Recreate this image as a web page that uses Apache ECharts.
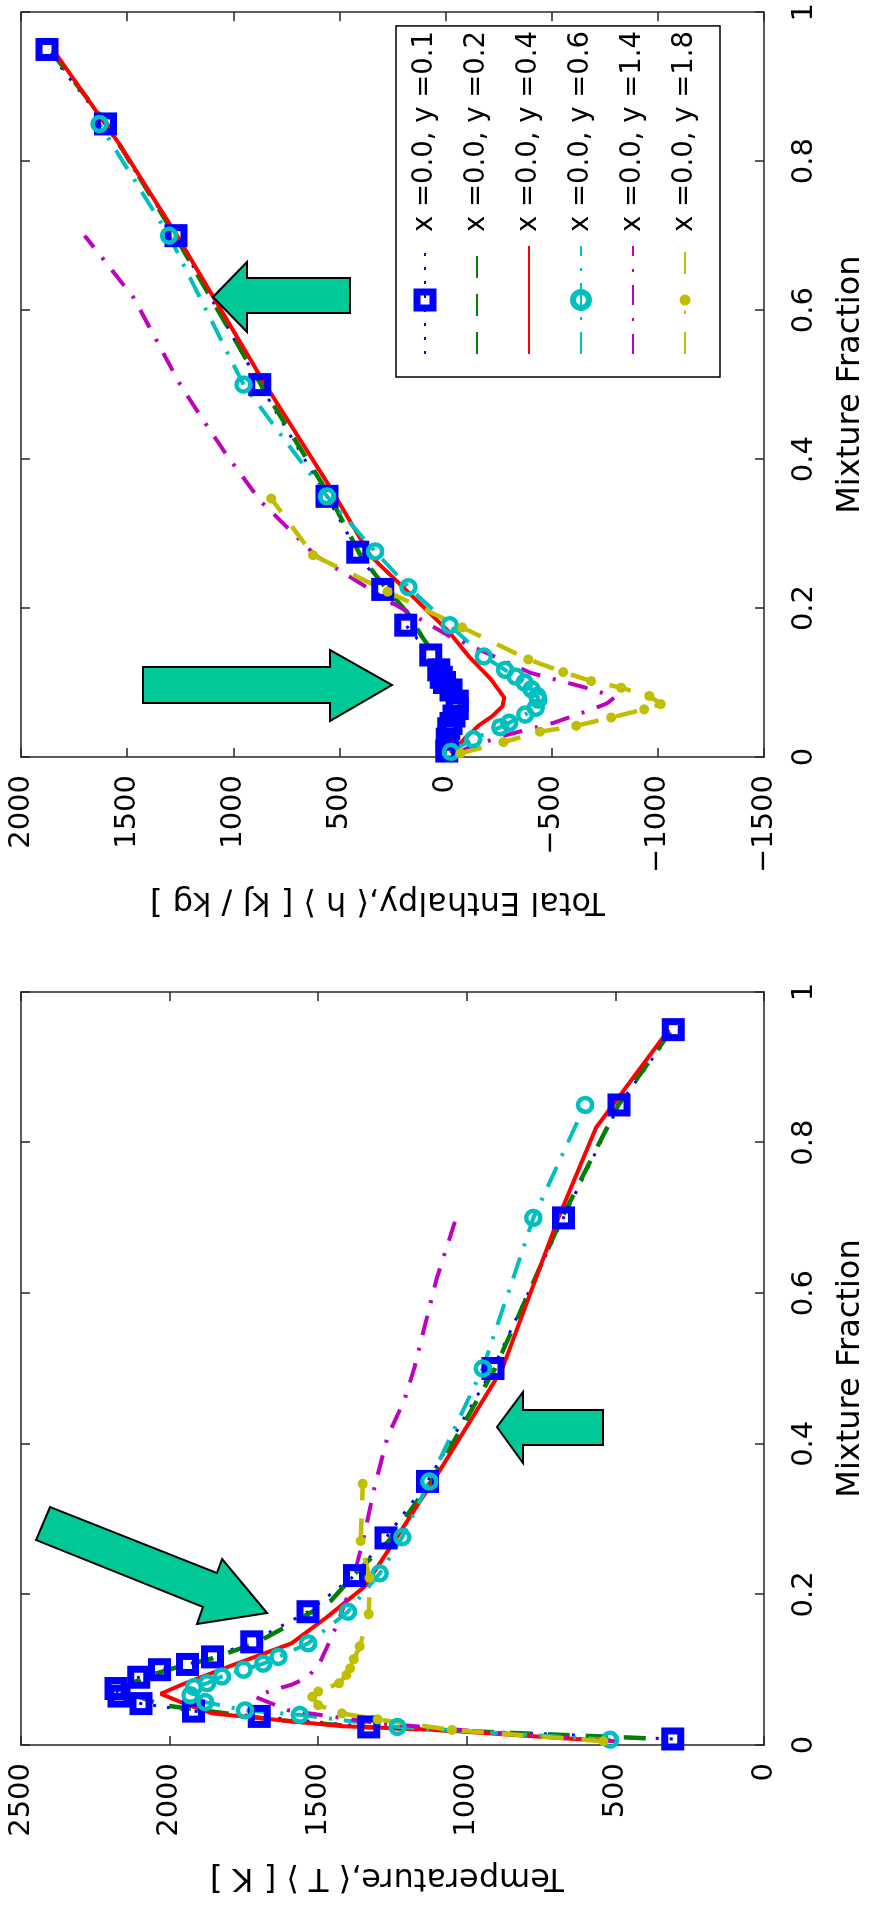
<!DOCTYPE html>
<html>
<head>
<meta charset="utf-8">
<script src="https://cdn.jsdelivr.net/npm/echarts@6/dist/echarts.min.js"></script>
<style>
  html, body { margin: 0; padding: 0; overflow: hidden; background: #fff; width: 872px; height: 1914px; }
  /* figure is drawn landscape, then turned a quarter counter-clockwise like the scan */
  #chart { position: absolute; left: 0; top: 0; width: 1914px; height: 872px;
           transform-origin: 0 0; transform: translateY(1914px) rotate(-90deg); }
</style>
</head>
<body>
<div id="chart"></div>
<script>
// legend labels
const names = ['x =0.0, y =0.1', 'x =0.0, y =0.2', 'x =0.0, y =0.4', 'x =0.0, y =0.6', 'x =0.0, y =1.4', 'x =0.0, y =1.8']

// mixture fraction of each profile
const zB = [0.008, 0.024, 0.038, 0.045, 0.055, 0.065, 0.075, 0.09, 0.1, 0.107, 0.117, 0.137, 0.177, 0.225, 0.275, 0.35, 0.5, 0.7, 0.85, 0.95]
const zG = [0.009, 0.024, 0.033, 0.053, 0.073, 0.091, 0.104, 0.115, 0.135, 0.161, 0.192, 0.23, 0.27, 0.35, 0.5, 0.7, 0.85, 0.95]
const zR = [0.005, 0.02, 0.025, 0.035, 0.042, 0.055, 0.068, 0.08, 0.104, 0.135, 0.17, 0.21, 0.27, 0.365, 0.5, 0.7, 0.82, 0.95]
const zC = [0.007, 0.024, 0.04, 0.046, 0.057, 0.066, 0.077, 0.082, 0.091, 0.1, 0.108, 0.117, 0.135, 0.177, 0.228, 0.276, 0.35, 0.5, 0.7, 0.85]
const zM = [0.005, 0.013, 0.029, 0.046, 0.064, 0.072, 0.08, 0.09, 0.113, 0.162, 0.21, 0.27, 0.343, 0.409, 0.458, 0.5, 0.617, 0.7]
const zY = [0.005, 0.02, 0.034, 0.042, 0.053, 0.064, 0.071, 0.082, 0.093, 0.102, 0.114, 0.131, 0.174, 0.222, 0.271, 0.347]

// mean temperature [K]
const tB = [307, 1330, 1698, 1920, 2096, 2170, 2180, 2104, 2034, 1940, 1856, 1724, 1534, 1378, 1272, 1132, 912, 675, 488, 305]
const tG = [398, 1356, 1634, 2024, 2169, 2080, 1969, 1857, 1712, 1590, 1456, 1370, 1265, 1120, 905, 680, 490, 310]
const tR = [520, 1100, 1420, 1680, 1857, 1950, 2030, 1960, 1802, 1590, 1470, 1345, 1245, 1090, 880, 692, 565, 320]
const tC = [518, 1233, 1562, 1746, 1880, 1930, 1918, 1874, 1824, 1751, 1685, 1634, 1534, 1400, 1293, 1217, 1126, 946, 776, 602]
const tM = [500, 806, 1300, 1600, 1712, 1660, 1590, 1534, 1490, 1434, 1390, 1350, 1310, 1267, 1210, 1177, 1103, 1036]
const tY = [540, 1050, 1300, 1420, 1500, 1520, 1500, 1430, 1405, 1392, 1380, 1360, 1330, 1327, 1357, 1350]

// mean total enthalpy [kJ/kg]
const hB = [-5, -8, -15, -25, -40, -55, -55, -25, 5, 20, 32, 70, 187, 296, 414, 559, 875, 1270, 1602, 1878]
const hG = [-15, -23, -35, -55, -68, -60, -25, -5, 45, 110, 175, 290, 400, 545, 870, 1275, 1595, 1865]
const hR = [-23, -75, -90, -130, -155, -220, -268, -276, -215, -110, -10, 135, 353, 550, 849, 1265, 1530, 1850]
const hC = [-25, -130, -257, -300, -375, -425, -437, -432, -405, -372, -330, -280, -180, -20, 175, 332, 559, 952, 1303, 1630]
const hM = [-55, -110, -280, -510, -690, -760, -795, -700, -400, -20, 270, 610, 870, 1040, 1155, 1250, 1470, 1700]
const hY = [-70, -273, -445, -616, -780, -936, -1014, -960, -827, -686, -554, -390, -78, 273, 624, 821]

const zList = [zB, zG, zR, zC, zM, zY]
const tList = [tB, tG, tR, tC, tM, tY]
const hList = [hB, hG, hR, hC, hM, hY]

const font = 'DejaVu Sans'
const frame = '#262626'

// matlab-ish line specs (legend symbols are drawn a bit bigger, so they get their own border)
const looks = [
  { color: '#0000ff', dash: [3, 11], width: 3, symbol: 'rect', size: 16, border: 7, fill: 'rgba(0,0,0,0)', legendBorder: 7 },
  { color: '#008000', dash: [22, 16], width: 4.5, symbol: 'none' },
  { color: '#ff0000', dash: 'solid', width: 4, symbol: 'none' },
  { color: '#00bfbf', dash: [22, 12, 3, 12], width: 4, symbol: 'circle', size: 14, border: 4.5, fill: 'rgba(0,0,0,0)', legendBorder: 6 },
  { color: '#bf00bf', dash: [20, 13, 3, 13], width: 4, symbol: 'none' },
  { color: '#bfbf00', dash: [22, 18], width: 4.5, symbol: 'circle', size: 10, border: 0, fill: '#bfbf00', legendBorder: 5, legendRing: '#fff' }
]

const pairs = (z, v) => z.map((x, i) => [x, v[i]])

function makeSeries (valueList, xi, yi) {
  return names.map((name, i) => {
    const lk = looks[i]
    return {
      name,
      type: 'line',
      xAxisIndex: xi,
      yAxisIndex: yi,
      data: pairs(zList[i], valueList[i]),
      color: lk.color,
      symbol: lk.symbol,
      symbolSize: lk.size || 0,
      showSymbol: lk.symbol !== 'none',
      lineStyle: { color: lk.color, width: lk.width, type: lk.dash },
      itemStyle: lk.symbol === 'none'
        ? { opacity: 0 }
        : { color: lk.fill, borderColor: lk.color, borderWidth: lk.border },
      emphasis: { disabled: true },
      animation: false
    }
  })
}

function zAxis (grid, pos) {
  const main = pos === 'bottom'
  return {
    type: 'value',
    gridIndex: grid,
    position: pos,
    min: 0,
    max: 1,
    interval: 0.2,
    name: main ? 'Mixture Fraction' : '',
    nameLocation: 'middle',
    nameGap: 71,
    nameTextStyle: { fontFamily: font, fontSize: 32, color: '#000' },
    axisLine: { show: true, onZero: false, lineStyle: { color: frame, width: 1.5 } },
    axisTick: { show: true, inside: true, length: 9, lineStyle: { color: frame, width: 1.5 } },
    axisLabel: { show: main, fontFamily: font, fontSize: 29, color: '#000', margin: 26 },
    splitLine: { show: false }
  }
}

function valAxis (grid, pos, min, max, title, gap, shift) {
  const main = pos === 'left'
  return {
    type: 'value',
    gridIndex: grid,
    position: pos,
    min,
    max,
    interval: 500,
    name: main ? title : '',
    nameLocation: 'middle',
    nameGap: gap,
    nameTextStyle: { fontFamily: font, fontSize: 32, color: '#000', padding: [0, 0, 0, shift || 0] },
    axisLine: { show: true, onZero: false, lineStyle: { color: frame, width: 1.5 } },
    axisTick: { show: true, inside: true, length: 9, lineStyle: { color: frame, width: 1.5 } },
    axisLabel: {
      show: main,
      fontFamily: font,
      fontSize: 29,
      color: '#000',
      margin: 18,
      formatter: v => (v < 0 ? '\u2212' + (-v) : String(v))
    },
    splitLine: { show: false }
  }
}

// big green annotation arrows (pixel outlines in the unrotated figure)
const arrows = [
  [[1601, 350], [1601, 247], [1582, 247], [1617, 213], [1652, 247], [1636, 247], [1636, 350]],
  [[1211, 143], [1247, 143], [1247, 330], [1264, 330], [1229, 392], [1193, 330], [1211, 330]],
  [[469, 603], [469, 523], [451, 523], [487, 497], [522, 523], [504, 523], [504, 603]],
  [[407, 50], [341, 217], [355, 222], [301, 267], [290, 197], [307, 203], [374, 36]]
]

const myChart = echarts.init(document.getElementById('chart'), null, { renderer: 'canvas', width: 1914, height: 872 })

const option = {
  backgroundColor: '#fff',
  animation: false,
  grid: [
    { left: 169, right: 992, top: 21, bottom: 103 },
    { left: 1157, right: 5, top: 21, bottom: 103 }
  ],
  xAxis: [zAxis(0, 'bottom'), zAxis(0, 'top'), zAxis(1, 'bottom'), zAxis(1, 'top')],
  yAxis: [
    valAxis(0, 'left', 0, 2500, 'Temperature,\u27e8 T \u27e9 [ K ]', 116, 11),
    valAxis(0, 'right', 0, 2500, '', 0),
    valAxis(1, 'left', -1500, 2000, 'Total Enthalpy,\u27e8 h \u27e9 [ kJ / kg ]', 128, 30),
    valAxis(1, 'right', -1500, 2000, '', 0)
  ],
  legend: {
    data: names.map((name, i) => {
      const lk = looks[i]
      if (!lk.legendBorder) return name
      return { name, itemStyle: { borderWidth: lk.legendBorder, borderColor: lk.legendRing || lk.color } }
    }),
    orient: 'vertical',
    left: 1537,
    top: 396,
    padding: [14, 5, 20, 22],
    itemWidth: 108,
    itemHeight: 20,
    itemGap: 22,
    borderColor: '#000',
    borderWidth: 1.5,
    backgroundColor: '#fff',
    selectedMode: false,
    textStyle: { fontFamily: font, fontSize: 27.5, color: '#000', lineHeight: 30, padding: [0, 0, 0, 9] }
  },
  graphic: arrows.map(pts => ({
    type: 'polygon',
    z: 100,
    shape: { points: pts },
    style: { fill: '#00c896', stroke: '#000', lineWidth: 2 }
  })),
  series: [...makeSeries(tList, 0, 0), ...makeSeries(hList, 2, 2)]
}

myChart.setOption(option)
</script>
</body>
</html>
